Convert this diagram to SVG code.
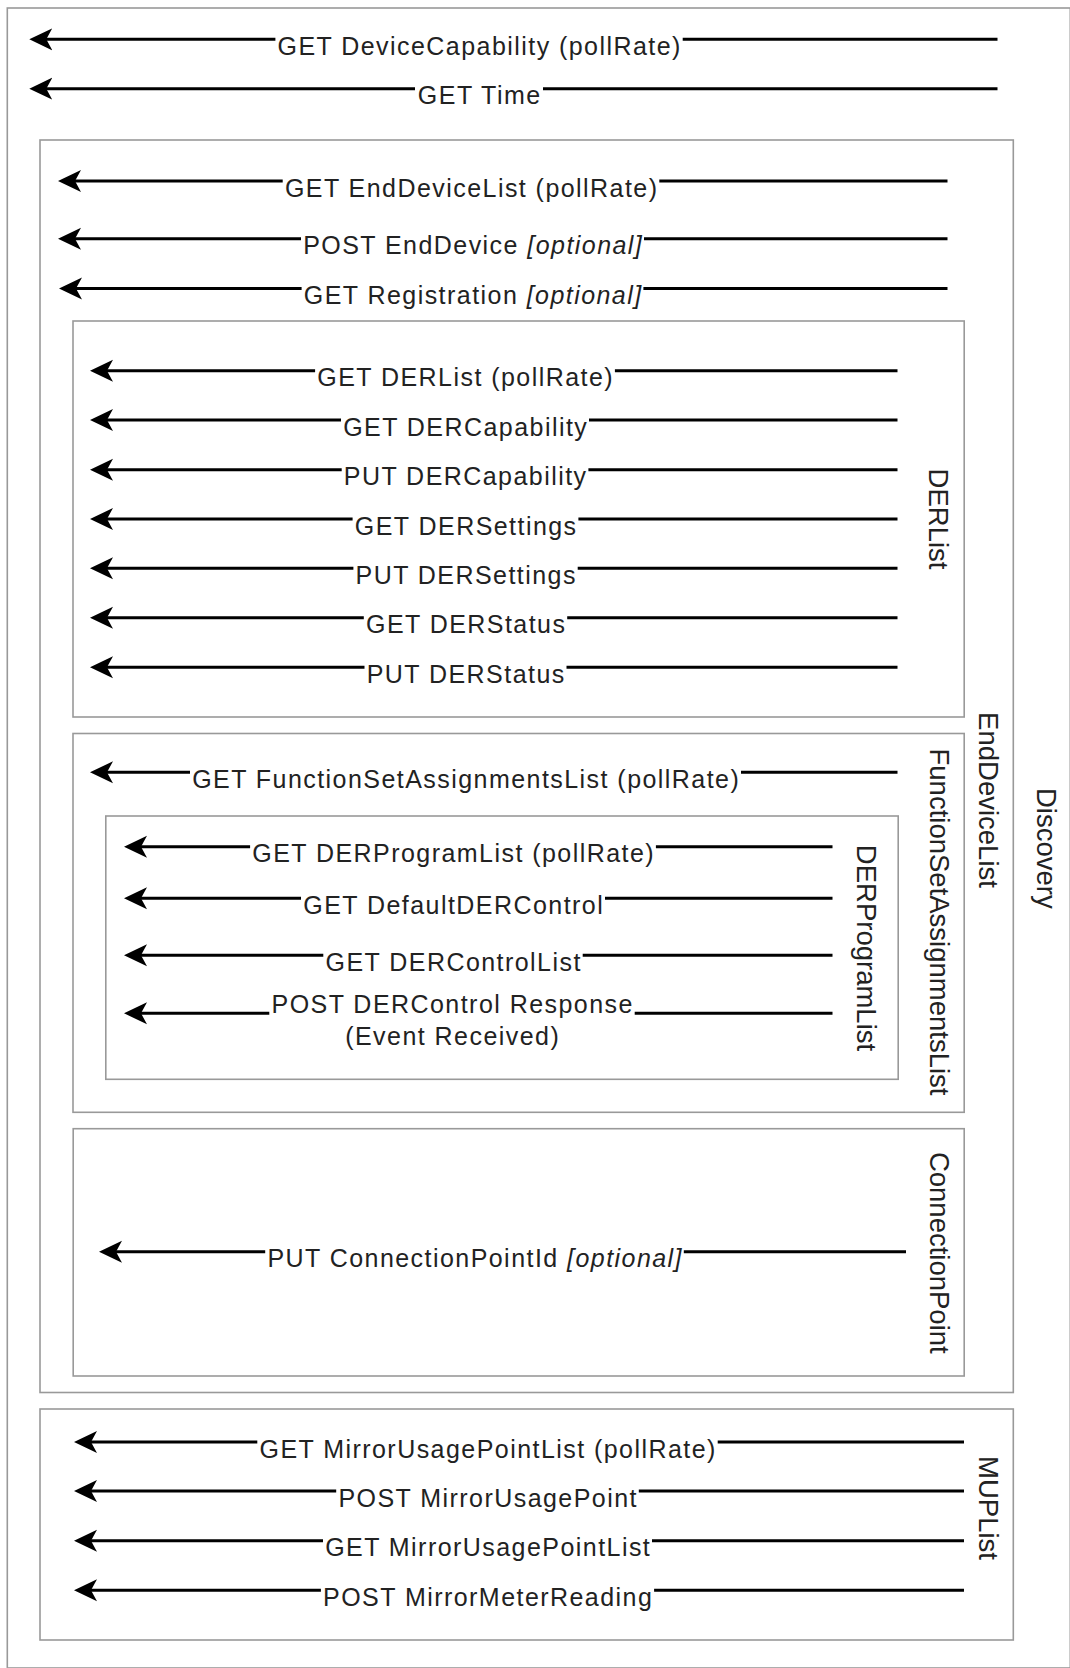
<svg xmlns="http://www.w3.org/2000/svg" width="1070" height="1668" viewBox="0 0 1070 1668">
<style>
.box{fill:none;stroke:#999;stroke-width:1.6}
.vl{font-family:"Liberation Sans",Arial,sans-serif;font-size:27.5px;fill:#222;text-anchor:middle}
.lbl{font-family:"Liberation Sans",Arial,sans-serif;font-size:25px;letter-spacing:1.45px;fill:#222;text-anchor:middle}
.it{font-style:italic}
.edge{fill:none;stroke:#000;stroke-width:3;marker-end:url(#arr)}
</style>
<defs>
<marker id="arr" markerUnits="userSpaceOnUse" viewBox="0 0 24 24" markerWidth="24" markerHeight="24" refX="15" refY="12" orient="auto">
<path d="M0,1 L23,12 L0,23 L6,12 Z" fill="#000"/>
</marker>
</defs>
<rect width="1070" height="1668" fill="#fff"/>
<g id="discovery">
<rect class="box" x="7.3" y="8" width="1063" height="1660"/>
<text class="vl" transform="translate(1046.7,848.3) rotate(90)" y="9.85">Discovery</text>
</g>
<g id="enddevicelist">
<rect class="box" x="40" y="140" width="973.3" height="1252.5"/>
<text class="vl" transform="translate(988.5,800) rotate(90)" y="9.85">EndDeviceList</text>
</g>
<g id="derlist">
<rect class="box" x="73" y="321" width="891.2" height="396"/>
<text class="vl" transform="translate(939,519) rotate(90)" y="9.85">DERList</text>
</g>
<g id="functionsetassignmentslist">
<rect class="box" x="73" y="733.5" width="891.2" height="378.8"/>
<text class="vl" transform="translate(940,922) rotate(90)" y="9.85">FunctionSetAssignmentsList</text>
</g>
<g id="derprogramlist">
<rect class="box" x="105.8" y="816" width="792.4" height="263.3"/>
<text class="vl" transform="translate(866.7,948) rotate(90)" y="9.85">DERProgramList</text>
</g>
<g id="connectionpoint">
<rect class="box" x="73.2" y="1128.7" width="891" height="247.3"/>
<text class="vl" transform="translate(940,1252.8) rotate(90)" y="9.85">ConnectionPoint</text>
</g>
<g id="muplist">
<rect class="box" x="40" y="1409" width="973.3" height="231"/>
<text class="vl" transform="translate(988.5,1508) rotate(90)" y="9.85">MUPList</text>
</g>
<g id="connectors">
<path class="edge" d="M997.5,39.3 H682.7 M275.4,39.3 H37.3"/>
<path class="edge" d="M997.5,88.7 H543 M415,88.7 H37.3"/>
<path class="edge" d="M947.5,181 H659.3 M282.7,181 H66"/>
<path class="edge" d="M947.5,238.7 H644 M301,238.7 H66"/>
<path class="edge" d="M947.5,288.5 H643.4 M301.6,288.5 H67"/>
<path class="edge" d="M897.5,370.7 H614.9 M315.1,370.7 H98"/>
<path class="edge" d="M897.5,420 H589 M341,420 H98"/>
<path class="edge" d="M897.5,469.7 H588.4 M341.7,469.7 H98"/>
<path class="edge" d="M897.5,519 H578.4 M352.6,519 H98"/>
<path class="edge" d="M897.5,568.3 H577.7 M353.4,568.3 H98"/>
<path class="edge" d="M897.5,617.7 H567.2 M363.8,617.7 H98"/>
<path class="edge" d="M897.5,667.3 H566.5 M364.5,667.3 H98"/>
<path class="edge" d="M897.5,772.3 H741 M190,772.3 H98"/>
<path class="edge" d="M832.5,846.7 H655.9 M250.1,846.7 H132"/>
<path class="edge" d="M832.5,898.3 H605 M301,898.3 H132"/>
<path class="edge" d="M832.5,955.3 H582.7 M323.3,955.3 H132"/>
<path class="edge" d="M832.5,1013.3 H634.7 M269.3,1013.3 H132"/>
<path class="edge" d="M906,1251.7 H683.8 M265.2,1251.7 H107"/>
<path class="edge" d="M964,1442 H717.7 M257.3,1442 H82"/>
<path class="edge" d="M964,1491 H638.8 M336.2,1491 H82"/>
<path class="edge" d="M964,1540.7 H652 M323,1540.7 H82"/>
<path class="edge" d="M964,1590.3 H654.1 M320.9,1590.3 H82"/>
</g>
<g id="connector-labels">
<text class="lbl" x="479.7" y="54.8">GET DeviceCapability (pollRate)</text>
<text class="lbl" x="479.7" y="104.2">GET Time</text>
<text class="lbl" x="471.7" y="196.5">GET EndDeviceList (pollRate)</text>
<text class="lbl" x="473.2" y="254.2">POST EndDevice <tspan class="it">[optional]</tspan></text>
<text class="lbl" x="473.2" y="304">GET Registration <tspan class="it">[optional]</tspan></text>
<text class="lbl" x="465.7" y="386.2">GET DERList (pollRate)</text>
<text class="lbl" x="465.7" y="435.5">GET DERCapability</text>
<text class="lbl" x="465.7" y="485.2">PUT DERCapability</text>
<text class="lbl" x="466.2" y="534.5">GET DERSettings</text>
<text class="lbl" x="466.2" y="583.8">PUT DERSettings</text>
<text class="lbl" x="466.2" y="633.2">GET DERStatus</text>
<text class="lbl" x="466.2" y="682.8">PUT DERStatus</text>
<text class="lbl" x="466.2" y="787.8">GET FunctionSetAssignmentsList (pollRate)</text>
<text class="lbl" x="453.7" y="862.2">GET DERProgramList (pollRate)</text>
<text class="lbl" x="453.7" y="913.8">GET DefaultDERControl</text>
<text class="lbl" x="453.7" y="970.8">GET DERControlList</text>
<text class="lbl" x="452.7" y="1013.3">POST DERControl Response</text>
<text class="lbl" x="452.7" y="1045.3">(Event Received)</text>
<text class="lbl" x="475.2" y="1267.2">PUT ConnectionPointId <tspan class="it">[optional]</tspan></text>
<text class="lbl" x="488.2" y="1457.5">GET MirrorUsagePointList (pollRate)</text>
<text class="lbl" x="488.2" y="1506.5">POST MirrorUsagePoint</text>
<text class="lbl" x="488.2" y="1556.2">GET MirrorUsagePointList</text>
<text class="lbl" x="488.2" y="1605.8">POST MirrorMeterReading</text>
</g>
</svg>
